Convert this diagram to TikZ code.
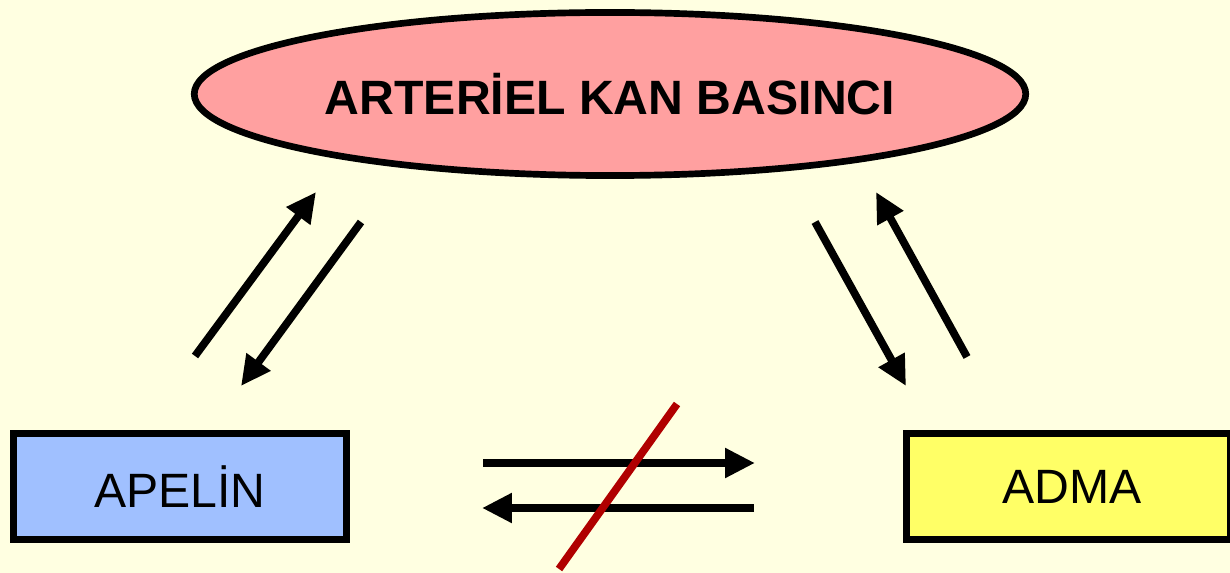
\documentclass[tikz,border=0pt]{standalone}
\usepackage{fontspec}
\setmainfont{Liberation Sans}
\usetikzlibrary{shapes.geometric,arrows.meta}

\definecolor{bgyellow}{RGB}{255,255,225}
\definecolor{kbpink}{RGB}{255,160,160}
\definecolor{apblue}{RGB}{160,192,255}
\definecolor{adyellow}{RGB}{255,255,102}
\definecolor{crossred}{RGB}{176,0,0}

\tikzset{
  linkarrow/.style={line width=2.2pt, -{Triangle[length=8.5pt,width=8pt]}},
  factorbox/.style={draw, line width=2.2pt, minimum width=3.33cm, minimum height=1.06cm,
    inner sep=0pt, font=\fontsize{13.7}{16}\selectfont}
}

\begin{document}
\begin{tikzpicture}[x=0.01cm, y=-0.01cm]

% Background
\fill[bgyellow] (0,0) rectangle (1230,573);
\useasboundingbox (0,0) rectangle (1230,573);

% Blood pressure
\node[ellipse, draw, line width=1.9pt, fill=kbpink, minimum width=8.31cm,
  minimum height=1.63cm, inner sep=0pt, font=\fontsize{13.7}{16}\selectfont\bfseries]
  (kb) at (610,94) {ARTERİEL KAN BASINCI};

% Factors
\node[factorbox, fill=apblue] (apelin) at (180,486.5) {APELİN};
\node[factorbox, fill=adyellow, minimum width=3.245cm] (adma) at (1068.75,486.5) {};
\node[font=\fontsize{13.7}{16}\selectfont] (admatxt) at (1072,486.5) {ADMA};

% Arrow end points
\coordinate (l1s) at (195,356);  \coordinate (l1e) at (316,192);
\coordinate (l2s) at (361,222);  \coordinate (l2e) at (241,386);
\coordinate (r1s) at (815,222);  \coordinate (r1e) at (906,386);
\coordinate (r2s) at (967,357);  \coordinate (r2e) at (876,192);
\coordinate (h1s) at (483,463);  \coordinate (h1e) at (755,463);
\coordinate (h2s) at (754,508);  \coordinate (h2e) at (482,508);
\coordinate (xs) at (677,404);   \coordinate (xe) at (559,569);

% Arrows to and from the ellipse
\draw[linkarrow] (l1s) -- (l1e);
\draw[linkarrow] (l2s) -- (l2e);
\draw[linkarrow] (r1s) -- (r1e);
\draw[linkarrow] (r2s) -- (r2e);

% Arrows between the factors
\draw[linkarrow] (h1s) -- (h1e);
\draw[linkarrow] (h2s) -- (h2e);

% Crossed out
\draw[crossred, line width=2.2pt] (xs) -- (xe);

\end{tikzpicture}
\end{document}
